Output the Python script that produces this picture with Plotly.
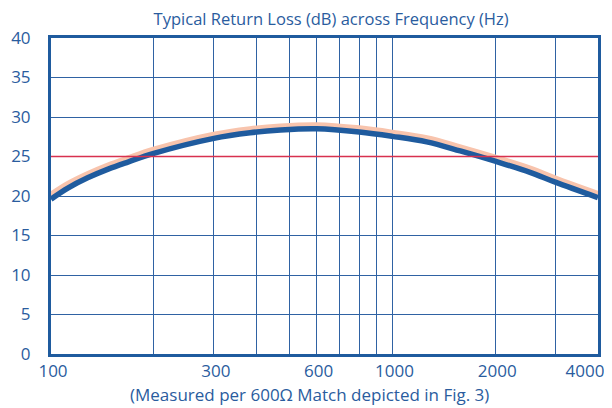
import plotly.graph_objects as go

# Data
freq = [100, 112, 128, 147, 168, 200, 300, 383, 470, 600, 800, 1000, 1260, 1580, 2000, 2530, 3000, 4000]
return_loss = [19.6, 21.0, 22.3, 23.4, 24.3, 25.4, 27.3, 28.0, 28.35, 28.5, 28.1, 27.55, 26.85, 25.7, 24.4, 23.0, 21.75, 19.8]
return_loss_band = [20.1, 21.45, 22.7, 23.8, 24.7, 25.8, 27.7, 28.4, 28.75, 28.9, 28.5, 27.95, 27.25, 26.1, 24.8, 23.4, 22.15, 20.2]
spec_limit = [25, 25]
spec_x = [100, 4000]

grid_vals = [100, 200, 300, 400, 500, 600, 700, 800, 900, 1000, 2000, 3000, 4000]
grid_text = ["100", "", "300", "", "", "600", "", "", "", "1000", "2000", "", ""]
end_tick_vals = [4000]
end_tick_text = ["4000"]

BLUE = "#1f5b9e"
GRID = "#2f62a3"
RED = "#d8314f"
PEACH = "#f8c4ad"
TEXT = "#2a5c9e"
FONT = "Open Sans"
X_RANGE = [2, 3.6022]

fig = go.Figure()
fig.add_trace(go.Scatter(x=spec_x, y=spec_limit, mode="lines", xaxis="x2",
                         line=dict(color=RED, width=1.5), hoverinfo="skip"))
fig.add_trace(go.Scatter(x=freq, y=return_loss_band, mode="lines",
                         line=dict(color=PEACH, width=7, shape="spline"), hoverinfo="skip"))
fig.add_trace(go.Scatter(x=freq, y=return_loss, mode="lines",
                         line=dict(color=BLUE, width=5.5, shape="spline")))

# page body has an 8px margin: size the figure so the plot lands where the reference has it
fig.update_layout(
    width=604, height=400,
    margin=dict(l=43, r=14, t=30, b=54, autoexpand=False),
    paper_bgcolor="white", plot_bgcolor="white",
    showlegend=False,
    font=dict(family=FONT, color=TEXT),
    title=dict(text="Typical Return Loss (dB) across Frequency (Hz)",
               x=0.535, xanchor="center", y=0.972, yanchor="middle",
               font=dict(size=16.5, color=TEXT, family=FONT)),
    annotations=[dict(text="(Measured per 600Ω Match depicted in Fig. 3)",
                      xref="paper", yref="paper", x=0.473, y=-0.128,
                      xanchor="center", yanchor="middle", showarrow=False,
                      font=dict(size=17, color=TEXT, family=FONT))],
    xaxis2=dict(type="log", range=X_RANGE, overlaying="x", anchor="y", side="bottom",
                tickmode="array", tickvals=end_tick_vals, ticktext=end_tick_text,
                showgrid=False, showline=True, linecolor="rgba(0,0,0,0)", linewidth=3,
                zeroline=False, ticks="",
                tickfont=dict(size=17, color=TEXT, family=FONT),
                ticklabelshift=-13, ticklabeloverflow="allow", automargin=False),
)
fig.layout.xaxis.update(
    type="log", range=X_RANGE,
    tickmode="array", tickvals=grid_vals, ticktext=grid_text,
    showgrid=True, gridcolor=GRID, gridwidth=1,
    showline=True, linecolor=BLUE, linewidth=3, mirror=True,
    ticks="", tickfont=dict(size=17, color=TEXT, family=FONT),
    ticklabelshift=2, ticklabeloverflow="allow",
    zeroline=False, automargin=False,
)
fig.update_yaxes(
    range=[0, 40], tickmode="linear", tick0=0, dtick=5,
    showgrid=True, gridcolor=GRID, gridwidth=1,
    showline=True, linecolor=BLUE, linewidth=3, mirror=True,
    ticks="", tickfont=dict(size=17, color=TEXT, family=FONT),
    ticklabelstandoff=14, zeroline=False, automargin=False,
)

fig.write_html("out.html")
